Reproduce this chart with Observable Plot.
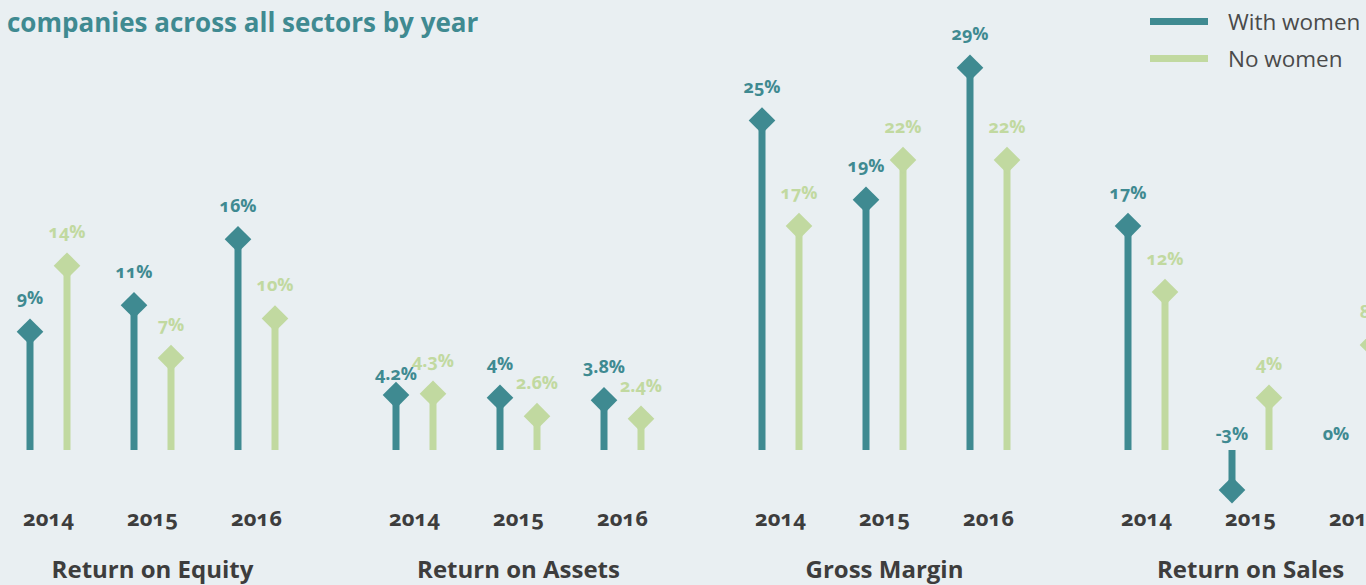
<!DOCTYPE html>
<html>
<head>
<meta charset="utf-8">
<script src="https://cdn.jsdelivr.net/npm/d3@7"></script>
<script src="https://cdn.jsdelivr.net/npm/@observablehq/plot@0.6"></script>
<style>
  html, body { margin: 0; padding: 0; background: #e9eff2; overflow: hidden; }
  #wrap { position: relative; width: 1366px; height: 585px; overflow: hidden; }
  #chart { position: absolute; left: -31px; top: 0; width: 1464px; }
  #chart svg { max-width: none !important; }
  #chart svg text { font-variant-numeric: oldstyle-nums; font-feature-settings: "onum" 1; }
  #title { position: absolute; left: 7px; top: 6px; font-family: "Open Sans", sans-serif; font-weight: 700;
           font-size: 26px; line-height: 32px; color: #3f8a91; white-space: nowrap; }
  .leg { position: absolute; left: 1150px; font-family: "Open Sans", sans-serif; font-size: 22.5px; color: #4a4a4a;
         display: flex; align-items: center; white-space: nowrap; }
  .leg span.sw { display: inline-block; width: 58px; height: 7px; margin-right: 20px; }
</style>
</head>
<body>
<div id="wrap">
  <div id="chart"></div>
  <div id="title">companies across all sectors by year</div>
  <div class="leg" style="top:6px"><span class="sw" style="background:#3f8a91"></span>With women</div>
  <div class="leg" style="top:43px"><span class="sw" style="background:#c1d9a0"></span>No women</div>
</div>
<script>
const panels = ["Return on Equity", "Return on Assets", "Gross Margin", "Return on Sales"];
const years = ["2014", "2015", "2016"];
const seriesNames = ["With women", "No women"];
const withWomen = [[9, 11, 16], [4.2, 4, 3.8], [25, 19, 29], [17, -3, 0]];
const noWomen = [[14, 7, 10], [4.3, 2.6, 2.4], [17, 22, 22], [12, 4, 8]];
const colors = ["#3f8a91", "#c1d9a0"];

const rows = [];
panels.forEach((p, i) => years.forEach((y, j) => {
  const a = withWomen[i][j], b = noWomen[i][j];
  // when the pair is nearly equal, the first series' label is dropped a little to avoid collision
  const close = a > 0 && b > 0 && Math.abs(a - b) < 0.5;
  rows.push({panel: p, year: y, series: seriesNames[0], value: a, close});
  rows.push({panel: p, year: y, series: seriesNames[1], value: b, close: false});
}));
const yearRows = panels.flatMap(p => years.map(y => ({panel: p, year: y})));
const fmt = d => d.value + "%";
const font = "'Open Sans', sans-serif";

function seriesMarks(name, color, dx) {
  const s = rows.filter(d => d.series === name);
  const label = {fx: "panel", x: "year", text: fmt, fill: color, dx, fontSize: 18, fontWeight: 700, lineAnchor: "middle"};
  return [
    Plot.ruleX(s, {fx: "panel", x: "year", y1: 0, y2: "value", stroke: color, strokeWidth: 7, dx}),
    Plot.dot(s.filter(d => d.value !== 0), {fx: "panel", x: "year", y: "value", symbol: "diamond2", r: 12, fill: color, stroke: "none", dx}),
    Plot.text(s.filter(d => d.value > 0 && !d.close), {...label, y: "value", dy: -33}),
    Plot.text(s.filter(d => d.value > 0 && d.close), {...label, y: "value", dy: -21}),
    Plot.text(s.filter(d => d.value <= 0), {...label, y: () => 0, dy: -16})
  ];
}

const chart = Plot.plot({
  width: 1464,
  height: 585,
  marginLeft: 0,
  marginRight: 0,
  marginTop: 54,
  marginBottom: 135,
  style: {background: "transparent", fontFamily: font, overflow: "visible"},
  fx: {domain: panels, padding: 0, axis: null},
  x: {type: "point", domain: years, padding: 0.75, axis: null},
  y: {domain: [0, 30], axis: null},
  marks: [
    ...seriesMarks(seriesNames[0], colors[0], -18.5),
    ...seriesMarks(seriesNames[1], colors[1], 18.5),
    Plot.text(yearRows, {fx: "panel", x: "year", frameAnchor: "bottom", dy: 68, text: "year",
      fontSize: 22, fontWeight: 700, fill: "#3d3d3d", lineAnchor: "middle"}),
    Plot.text(panels, {fx: d => d, frameAnchor: "bottom", dy: 120, text: d => d,
      fontSize: 24, fontWeight: 700, fill: "#3d3d3d", lineAnchor: "middle"})
  ]
});
document.getElementById("chart").appendChild(chart);
</script>
</body>
</html>
